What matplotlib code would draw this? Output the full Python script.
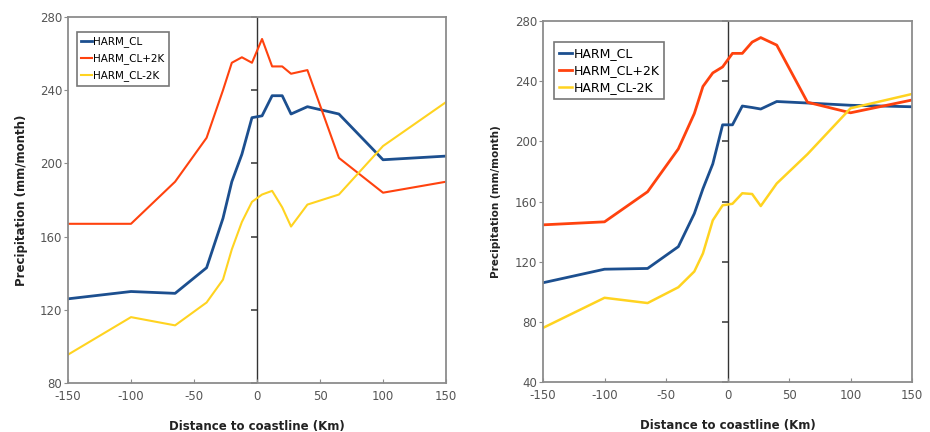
import matplotlib
matplotlib.use("Agg")
import matplotlib.pyplot as plt

plt.rcParams["axes.unicode_minus"] = False

# distance to coastline (km)
dist = [-150, -100, -65, -40, -27, -20, -12, -4, 4, 12, 20, 27, 40, 65, 100, 150]

# left panel
left_cl = [126, 130, 129, 143, 170, 190, 205, 225, 226, 237, 237, 227, 231, 227, 202, 204]
left_p2k = [167, 167, 190, 214, 240, 255, 258, 255, 268, 253, 253, 249, 251, 203, 184, 190]
left_m2k = [95.5, 116, 111.5, 124, 136.5, 153, 168, 179, 183, 185, 176, 165.5, 177.5, 183, 209.5, 233.5]

# right panel
right_cl = [106, 115, 115.5, 130, 152, 168.5, 185, 211, 211, 223.5, 222.5, 221.5, 226.5, 225.5, 224, 223]
right_p2k = [144.5, 146.5, 166.5, 195, 218.5, 236.5, 245.5, 249.5, 258.5, 258.5, 266, 269, 264, 226, 219, 227.5]
right_m2k = [76, 96, 92.5, 103, 113.5, 125.5, 147.5, 157.5, 158.5, 165.5, 165, 157, 172, 191.5, 222, 231.5]

labels = ["HARM_CL", "HARM_CL+2K", "HARM_CL-2K"]
colors = ["#1c4f8f", "#ff420e", "#ffd320"]

fig = plt.figure(figsize=(9.3, 4.32), dpi=100)
ax1 = fig.add_axes([0.0731, 0.1134, 0.4065, 0.8472])
ax2 = fig.add_axes([0.5839, 0.1157, 0.3968, 0.8356])

panels = [
    (ax1, [left_cl, left_p2k, left_m2k], (80, 280), [2.0, 1.5, 1.5], 7.5, 0.6, (0.024, 0.959)),
    (ax2, [right_cl, right_p2k, right_m2k], (40, 280), [2.0, 2.0, 1.8], 9, 0.32, (0.03, 0.942)),
]

for ax, series, ylim, widths, legsize, legspace, legpos in panels:
    for vals, lab, col, lw in zip(series, labels, colors, widths):
        ax.plot(dist, vals, color=col, lw=lw, label=lab)
    ax.set_xlim(-150, 150)
    ax.set_ylim(*ylim)
    ax.set_xticks([-150, -100, -50, 0, 50, 100, 150])
    yt = list(range(ylim[0], 281, 40))
    ax.set_yticks(yt)
    ax.axvline(0, color="#333333", lw=1.0, zorder=1)
    for sp in ax.spines.values():
        sp.set_color("#8c8c8c")
        sp.set_linewidth(1.3)
    ax.tick_params(axis="x", direction="in", length=3, colors="#8c8c8c",
                   labelcolor="#555555", labelsize=8.5, pad=5)
    ax.tick_params(axis="y", direction="out", length=3, colors="#8c8c8c",
                   labelcolor="#555555", labelsize=8.5, pad=1)
    # small ticks along the zero line
    zero = ax.secondary_yaxis(0.5)
    zero.set_yticks(yt)
    zero.spines["left"].set_visible(False)
    zero.spines["right"].set_visible(False)
    zero.tick_params(axis="y", which="both", direction="out", length=4, width=1.2,
                     colors="#444444", left=True, right=False,
                     labelleft=False, labelright=False)
    ax.set_xlabel("Distance to coastline (Km)", fontsize=8.5, fontweight="bold",
                  color="#222222", labelpad=12)
    leg = ax.legend(loc="upper left", bbox_to_anchor=legpos, fontsize=legsize,
                    handlelength=1.0, handletextpad=0.15, borderpad=0.4,
                    labelspacing=legspace, fancybox=False, framealpha=1,
                    borderaxespad=0)
    leg.get_frame().set_edgecolor("#777777")
    leg.get_frame().set_linewidth(1.2)

ax1.set_ylabel("Precipitation (mm/month)", fontsize=8.5, fontweight="bold",
               color="#222222", labelpad=9)
ax2.set_ylabel("Precipitation (mm/month)", fontsize=7.5, fontweight="bold",
               color="#222222", labelpad=10)

fig.savefig("out.png", dpi=100)
